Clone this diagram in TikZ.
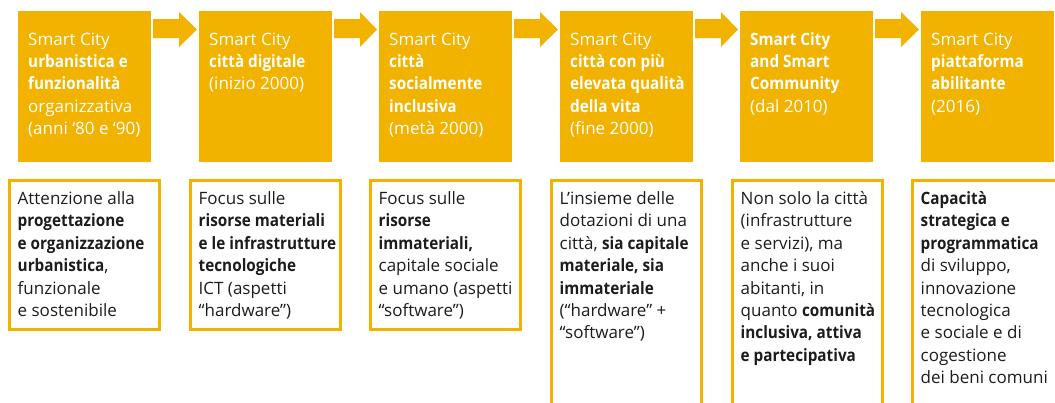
\documentclass[tikz,border=0pt]{standalone}
\usepackage{fontspec}
\setmainfont{Open Sans}[BoldFeatures={FakeStretch=0.9}]
\usetikzlibrary{calc}
\definecolor{scorange}{RGB}{241,179,0}
\definecolor{scdark}{RGB}{28,28,28}
\newcommand\sclines[1]{\parbox[t]{170pt}{\raggedright #1}}
\tikzset{
  topbox/.style={fill=scorange, draw=none, anchor=north west, minimum width=133pt, minimum height=151pt, inner sep=0pt, outer sep=0pt},
  toptext/.style={anchor=base west, inner sep=0pt, text=white, font=\fontsize{17}{22.4}\selectfont},
  botbox/.style={draw=scorange, line width=3pt, anchor=north west, minimum width=150pt, inner sep=0pt, outer sep=0pt},
  bottext/.style={anchor=base west, inner sep=0pt, text=scdark, font=\fontsize{17}{22.4}\selectfont},
  steparrow/.style={fill=scorange, draw=none},
}
\newcommand\scarrow[2]{%
  \fill[steparrow] ($(#1.north east)+(2,8)$) -- ($(#1.north east)+(28,8)$) -- ($(#1.north east)+(28,1)$)
    -- ($(#2.north west)+(-2,18.5)$) -- ($(#1.north east)+(28,36)$) -- ($(#1.north east)+(28,27)$)
    -- ($(#1.north east)+(2,27)$) -- cycle;}
\begin{document}
\begin{tikzpicture}[x=1pt,y=-1pt]
\useasboundingbox (0,0) rectangle (1055,402);
\clip (0,0) rectangle (1055,402);
% top boxes
\node[topbox] (t1) at (18,11) {};
\node[topbox] (t2) at (199,11) {};
\node[topbox] (t3) at (379,11) {};
\node[topbox] (t4) at (560,11) {};
\node[topbox] (t5) at (740,11) {};
\node[topbox] (t6) at (921,11) {};
\scarrow{t1}{t2}
\scarrow{t2}{t3}
\scarrow{t3}{t4}
\scarrow{t4}{t5}
\scarrow{t5}{t6}
\node[toptext] (tt1) at (28,45) {\sclines{Smart City\\\textbf{urbanistica e}\\\textbf{funzionalità}\\organizzativa\\(anni ‘80 e ‘90)}};
\node[toptext] (tt2) at (209,45) {\sclines{Smart City\\\textbf{città digitale}\\(inizio 2000)}};
\node[toptext] (tt3) at (389,45) {\sclines{Smart City\\\textbf{città}\\\textbf{socialmente}\\\textbf{inclusiva}\\(metà 2000)}};
\node[toptext] (tt4) at (570,45) {\sclines{Smart City\\\textbf{città con più}\\\textbf{elevata qualità}\\\textbf{della vita}\\(fine 2000)}};
\node[toptext] (tt5) at (750,45) {\sclines{\textbf{Smart City}\\\textbf{and Smart}\\\textbf{Community}\\(dal 2010)}};
\node[toptext] (tt6) at (931,45) {\sclines{Smart City\\\textbf{piattaforma}\\\textbf{abilitante}\\(2016)}};
% bottom boxes
\node[botbox, minimum height=149pt] (b1) at (9.5,180.5) {};
\node[botbox, minimum height=149pt] (b2) at (190.5,180.5) {};
\node[botbox, minimum height=149pt] (b3) at (370.5,180.5) {};
\node[botbox, minimum height=260pt] (b4) at (551.5,180.5) {};
\node[botbox, minimum height=260pt] (b5) at (732.5,180.5) {};
\node[botbox, minimum height=260pt] (b6) at (912.5,180.5) {};
\node[bottext] (bt1) at (17.5,204.5) {\sclines{Attenzione alla\\\textbf{progettazione}\\\textbf{e organizzazione}\\\textbf{urbanistica},\\funzionale\\e sostenibile}};
\node[bottext] (bt2) at (198.5,204.5) {\sclines{Focus sulle\\\textbf{risorse materiali}\\\textbf{e le infrastrutture}\\\textbf{tecnologiche}\\ICT (aspetti\\“hardware”)}};
\node[bottext] (bt3) at (378.5,204.5) {\sclines{Focus sulle\\\textbf{risorse}\\\textbf{immateriali,}\\capitale sociale\\e umano (aspetti\\“software”)}};
\node[bottext] (bt4) at (559.5,204.5) {\sclines{L’insieme delle\\dotazioni di una\\città, \textbf{sia capitale}\\\textbf{materiale, sia}\\\textbf{immateriale}\\(“hardware” +\\“software”)}};
\node[bottext] (bt5) at (740.5,204.5) {\sclines{Non solo la città\\(infrastrutture\\e servizi), ma\\anche i suoi\\abitanti, in\\quanto \textbf{comunità}\\\textbf{inclusiva, attiva}\\\textbf{e partecipativa}}};
\node[bottext] (bt6) at (920.5,204.5) {\sclines{\textbf{Capacità}\\\textbf{strategica e}\\\textbf{programmatica}\\di sviluppo,\\innovazione\\tecnologica\\e sociale e di\\cogestione\\dei beni comuni}};
\end{tikzpicture}
\end{document}
